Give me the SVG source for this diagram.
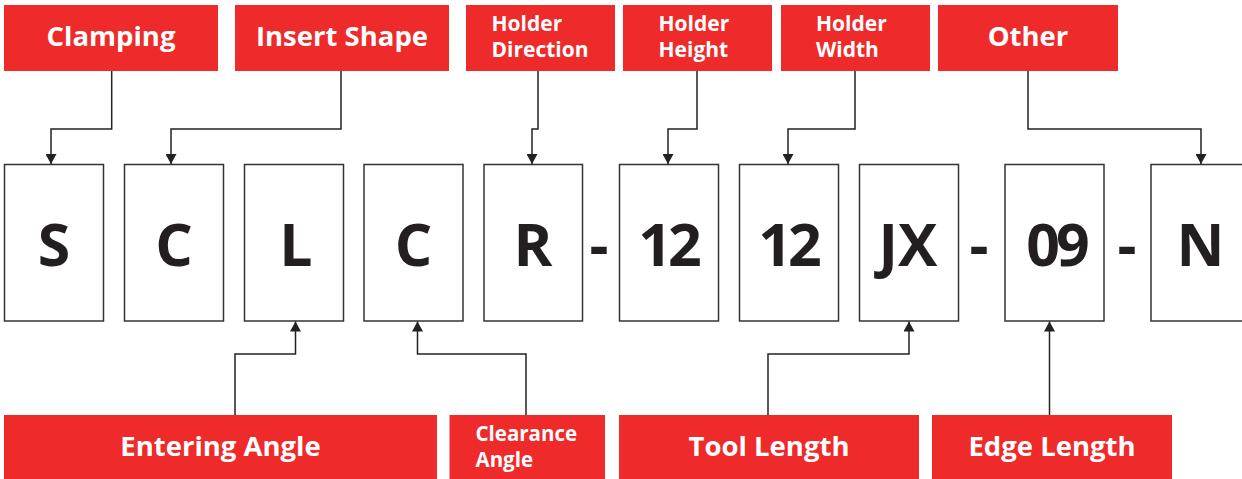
<svg xmlns="http://www.w3.org/2000/svg" width="1242" height="479" viewBox="0 0 1242 479">
<defs>
<marker id="arr" markerUnits="userSpaceOnUse" markerWidth="11" markerHeight="11" refX="10" refY="5.5" orient="auto">
<path d="M0,0 L10,5.5 L0,11 z" fill="#222"/>
</marker>
<style>
.lab{fill:#EE2A2A}
.lt{font-family:"Open Sans","Noto Sans",sans-serif;font-weight:bold;fill:#fff}
.big{font-size:27.5px;text-anchor:middle}
.sm{font-size:21px}
.sm2{font-size:20.5px}
.box{fill:#fff;stroke:#333;stroke-width:1.5}
.code{font-family:"Open Sans","Noto Sans",sans-serif;font-weight:bold;font-size:59px;fill:#231f20;text-anchor:middle}
.num{letter-spacing:-4px}
.con{fill:none;stroke:#222;stroke-width:1.5}
</style>
</defs>
<rect width="1242" height="479" fill="#fff"/>

<g id="label-clamping"><rect class="lab" x="4" y="5" width="214" height="66"/><text class="lt big" x="111" y="46">Clamping</text></g>
<g id="label-insert-shape"><rect class="lab" x="235" y="5" width="214" height="66"/><text class="lt big" x="342" y="46">Insert Shape</text></g>
<g id="label-holder-direction"><rect class="lab" x="466" y="5" width="149" height="66"/><text class="lt sm"><tspan x="491.5" y="31">Holder</tspan><tspan x="491.5" y="56.5">Direction</tspan></text></g>
<g id="label-holder-height"><rect class="lab" x="623" y="5" width="149" height="66"/><text class="lt sm"><tspan x="658.5" y="31">Holder</tspan><tspan x="658.5" y="56.5">Height</tspan></text></g>
<g id="label-holder-width"><rect class="lab" x="781" y="5" width="149" height="66"/><text class="lt sm"><tspan x="816" y="31">Holder</tspan><tspan x="816" y="56.5">Width</tspan></text></g>
<g id="label-other"><rect class="lab" x="938" y="5" width="180" height="66"/><text class="lt big" x="1028" y="46">Other</text></g>

<g id="box-s"><rect class="box" x="4.5" y="164.5" width="99" height="156.5"/><text class="code" x="54" y="266">S</text></g>
<g id="box-c1"><rect class="box" x="124.5" y="164.5" width="99" height="156.5"/><text class="code" x="174" y="266">C</text></g>
<g id="box-l"><rect class="box" x="244.5" y="164.5" width="99" height="156.5"/><text class="code" x="296" y="266">L</text></g>
<g id="box-c2"><rect class="box" x="364" y="164.5" width="99" height="156.5"/><text class="code" x="413.5" y="266">C</text></g>
<g id="box-r"><rect class="box" x="484" y="164.5" width="98.5" height="156.5"/><text class="code" x="533" y="266">R</text></g>
<g id="dash1"><text class="code" x="599" y="266">-</text></g>
<g id="box-12a"><rect class="box" x="619.5" y="164.5" width="99" height="156.5"/><text class="code num" x="668" y="266">12</text></g>
<g id="box-12b"><rect class="box" x="739.5" y="164.5" width="99" height="156.5"/><text class="code num" x="788" y="266">12</text></g>
<g id="box-jx"><rect class="box" x="859.5" y="164.5" width="99" height="156.5"/><text class="code" x="908" y="266">JX</text></g>
<g id="dash2"><text class="code" x="979" y="266">-</text></g>
<g id="box-09"><rect class="box" x="1005" y="164.5" width="99" height="156.5"/><text class="code num" x="1056" y="266">09</text></g>
<g id="dash3"><text class="code" x="1127" y="266">-</text></g>
<g id="box-n"><rect class="box" x="1151" y="164.5" width="99" height="156.5"/><text class="code" x="1200.5" y="266">N</text></g>

<g id="label-entering-angle"><rect class="lab" x="4" y="415" width="433" height="64"/><text class="lt big" x="220.5" y="456">Entering Angle</text></g>
<g id="label-clearance-angle"><rect class="lab" x="449.5" y="415" width="155.5" height="64"/><text class="lt sm2"><tspan x="475.5" y="440.5">Clearance</tspan><tspan x="475.5" y="467">Angle</tspan></text></g>
<g id="label-tool-length"><rect class="lab" x="619" y="415" width="300" height="64"/><text class="lt big" x="769" y="456">Tool Length</text></g>
<g id="label-edge-length"><rect class="lab" x="932" y="415" width="240" height="64"/><text class="lt big" x="1052" y="456">Edge Length</text></g>

<g id="connectors">
<path class="con" d="M111.7,71 V129 H51 V164" marker-end="url(#arr)"/>
<path class="con" d="M341,71 V129 H171 V164" marker-end="url(#arr)"/>
<path class="con" d="M538,71 V129 H532 V164" marker-end="url(#arr)"/>
<path class="con" d="M697,71 V129 H668 V164" marker-end="url(#arr)"/>
<path class="con" d="M855,71 V129 H788 V164" marker-end="url(#arr)"/>
<path class="con" d="M1028,71 V129 H1201 V164" marker-end="url(#arr)"/>
<path class="con" d="M235,415 V354 H295.5 V321.5" marker-end="url(#arr)"/>
<path class="con" d="M526,415 V354 H417.5 V321.5" marker-end="url(#arr)"/>
<path class="con" d="M768,415 V354 H909 V321.5" marker-end="url(#arr)"/>
<path class="con" d="M1049.5,415 V321.5" marker-end="url(#arr)"/>
</g>
</svg>
